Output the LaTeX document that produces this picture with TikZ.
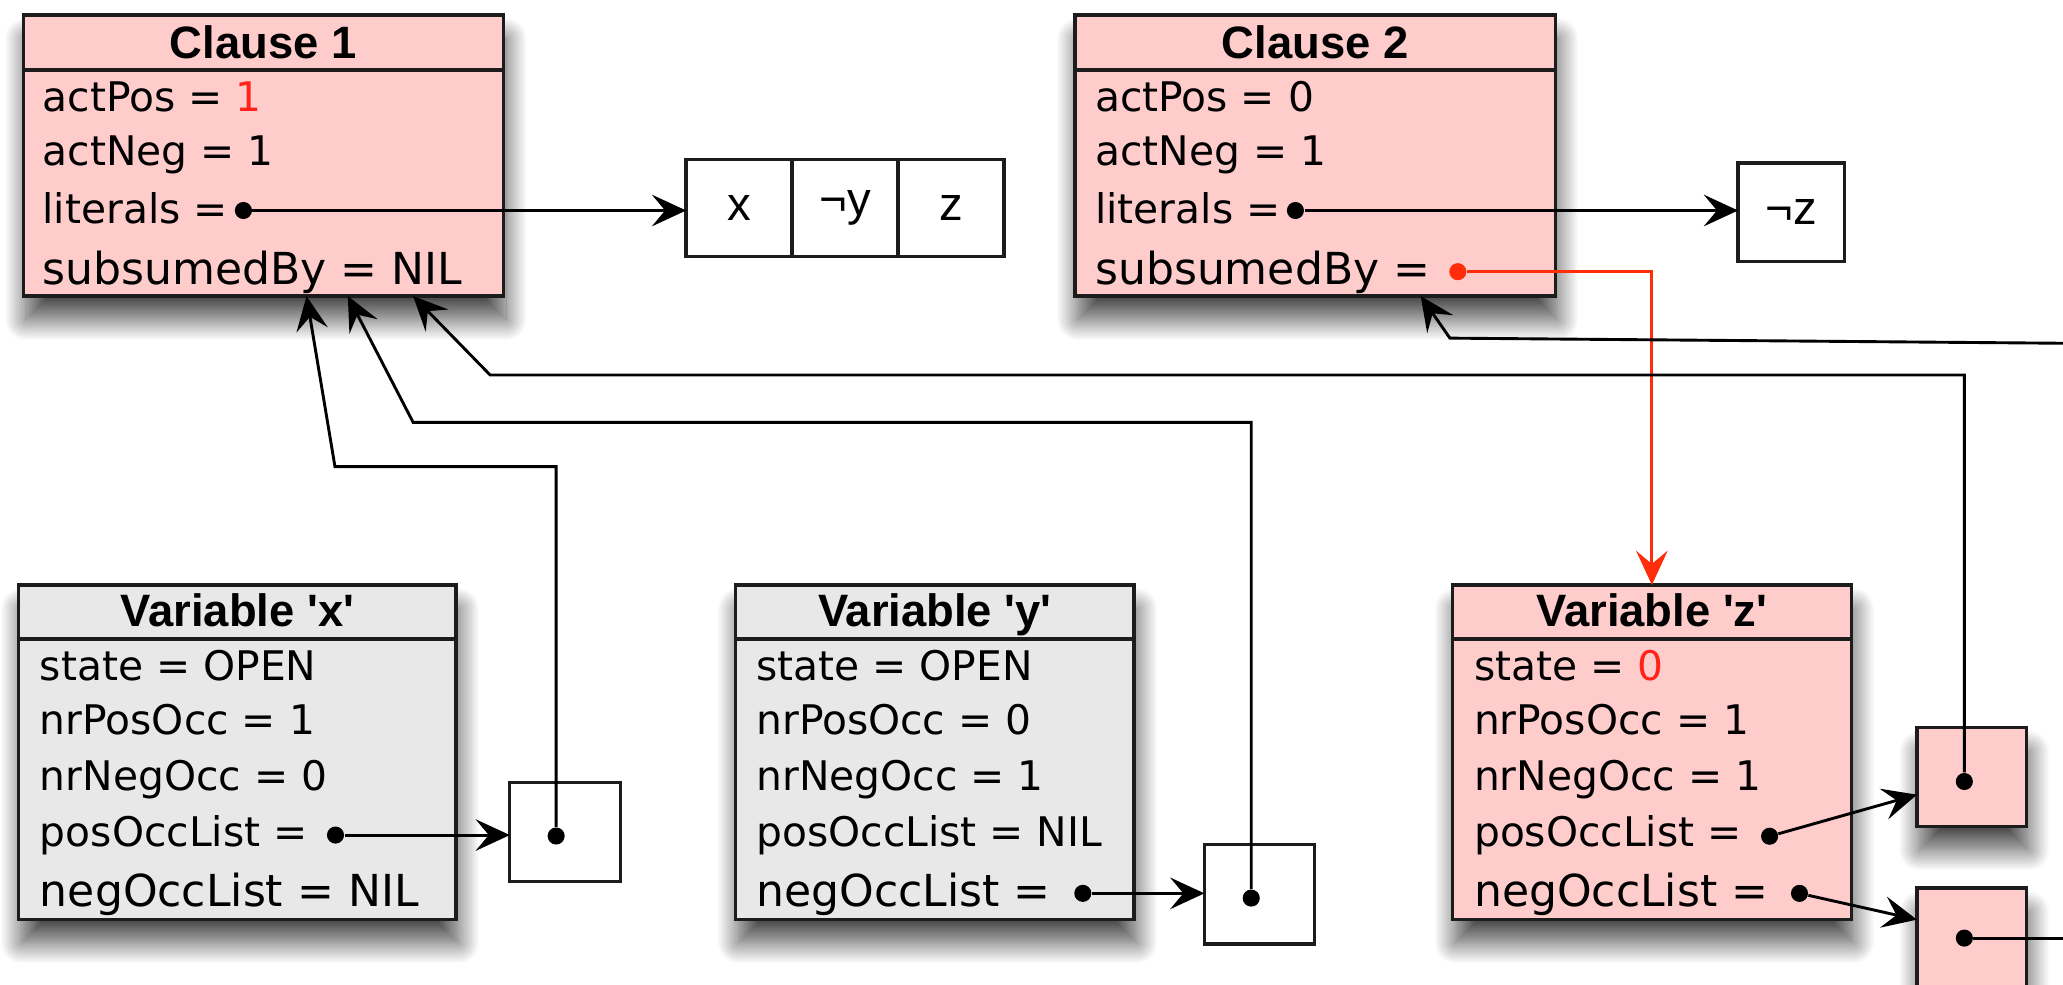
\documentclass[tikz,border=0pt]{standalone}
\usepackage{fontspec}
\setmainfont{DejaVu Sans}
\newfontfamily\headfont{Liberation Sans}
\newfontfamily\cellfont{Liberation Sans}
\usetikzlibrary{arrows.meta,calc,shadows.blur}

\definecolor{clausefill}{RGB}{255,204,204}
\definecolor{varfill}{RGB}{232,232,232}
\definecolor{rim}{RGB}{28,28,28}
\definecolor{hotred}{RGB}{255,35,25}
\definecolor{hotline}{RGB}{255,45,10}

\begin{document}
\begin{tikzpicture}[x=0.5pt, y=-0.5pt,
  recframe/.style={draw=rim, line width=1.25pt, inner sep=0pt, outer sep=0pt, anchor=north west},
  softshadow/.style={blur shadow={shadow xshift=1pt, shadow yshift=-9pt,
      shadow blur radius=8pt, shadow blur steps=30, shadow opacity=70}},
  clauserec/.style={recframe, fill=clausefill, softshadow, minimum width=182.5pt, minimum height=106.8pt},
  varrec/.style={recframe, fill=varfill, softshadow, minimum height=127pt},
  cellbox/.style={recframe, fill=white},
  celltext/.style={inner sep=0pt, font=\cellfont\fontsize{18}{20}\selectfont},
  zcell/.style={recframe, fill=clausefill, softshadow, minimum width=41.5pt, minimum height=37.5pt},
  headtext/.style={anchor=base, inner sep=0pt, font=\headfont\bfseries\fontsize{17.25}{20}\selectfont},
  attr/.style={anchor=base west, inner sep=0pt, font=\fontsize{15.5}{18}\selectfont},
  wideattr/.style={anchor=base west, inner sep=0pt, font=\fontsize{16.75}{19}\selectfont},
  ptrdot/.style={circle, fill=black, inner sep=0pt, minimum size=6.5pt},
  linkline/.style={draw=black, line width=1.1pt},
  headtip/.tip={Stealth[length=13pt, width=12pt, inset=5pt]},
  ptr/.style={linkline, -headtip},
  redptr/.style={draw=hotline, line width=1.1pt, -headtip},
  divider/.style={draw=rim, line width=1.25pt}
]
\clip (0,0) rectangle (1568,748);

% ---- clause records ----
\node[clauserec] (c1) at (17.6,11.4) {};
\draw[divider] (17.6,53.2) -- (382.7,53.2);
\node[headtext] (c1h) at (200,44.3) {Clause 1};
\node[attr] (c1a) at (32,85) {actPos = \textcolor{hotred}{1}};
\node[attr] (c1b) at (32,126) {actNeg = 1};
\node[attr] (c1c) at (32,170) {literals =};
\node[wideattr] (c1d) at (32,216.6) {subsumedBy = NIL};

\node[clauserec] (c2) at (817,11.4) {};
\draw[divider] (817,53.2) -- (1182,53.2);
\node[headtext] (c2h) at (999.5,44.3) {Clause 2};
\node[attr] (c2a) at (832,85) {actPos = 0};
\node[attr] (c2b) at (832,126) {actNeg = 1};
\node[attr] (c2c) at (832,170) {literals =};
\node[wideattr] (c2d) at (832,216.6) {subsumedBy =};

% ---- literal arrays ----
\node[cellbox, minimum width=40.25pt, minimum height=37pt] (l1) at (521.5,121) {};
\node[cellbox, minimum width=40.25pt, minimum height=37pt] (l2) at (602,121) {};
\node[cellbox, minimum width=40.25pt, minimum height=37pt] (l3) at (682.5,121) {};
\node[celltext] (l1t) at (l1.center) {x};
\node[celltext] (l2t) at (l2.center) {¬y};
\node[celltext] (l3t) at (l3.center) {z};

\node[cellbox, minimum width=40.5pt, minimum height=37.5pt] (nz) at (1321,124) {};
\node[celltext] (nzt) at (nz.center) {¬z};

% ---- variable records ----
\node[varrec, minimum width=166.2pt] (vx) at (14.2,444.6) {};
\draw[divider] (14.2,485.7) -- (346.6,485.7);
\node[headtext] (vxh) at (180.4,476) {Variable \textquotesingle x\textquotesingle};
\node[attr] (vx1) at (30,517) {state = OPEN};
\node[attr] (vx2) at (30,558.6) {nrPosOcc = 1};
\node[attr] (vx3) at (30,600.5) {nrNegOcc = 0};
\node[attr] (vx4) at (30,643.5) {posOccList =};
\node[wideattr] (vx5) at (30,689) {negOccList = NIL};

\node[varrec, minimum width=151.5pt] (vy) at (559,444.6) {};
\draw[divider] (559,485.7) -- (862,485.7);
\node[headtext] (vyh) at (710.5,476) {Variable \textquotesingle y\textquotesingle};
\node[attr] (vy1) at (574.5,517) {state = OPEN};
\node[attr] (vy2) at (574.5,558.6) {nrPosOcc = 0};
\node[attr] (vy3) at (574.5,600.5) {nrNegOcc = 1};
\node[attr] (vy4) at (574.5,643.5) {posOccList = NIL};
\node[wideattr] (vy5) at (574.5,689) {negOccList =};

\node[varrec, fill=clausefill, minimum width=151.5pt] (vz) at (1104,444.6) {};
\draw[divider] (1104,485.7) -- (1407,485.7);
\node[headtext] (vzh) at (1255.5,476) {Variable \textquotesingle z\textquotesingle};
\node[attr] (vz1) at (1120,517) {state = \textcolor{hotred}{0}};
\node[attr] (vz2) at (1120,558.6) {nrPosOcc = 1};
\node[attr] (vz3) at (1120,600.5) {nrNegOcc = 1};
\node[attr] (vz4) at (1120,643.5) {posOccList =};
\node[wideattr] (vz5) at (1120,689) {negOccList =};

% ---- occurrence list cells ----
\node[cellbox, minimum width=42pt, minimum height=37.5pt] (bx) at (387.5,595) {};
\node[cellbox, minimum width=41.8pt, minimum height=37.75pt] (by) at (915.4,642) {};
\node[zcell] (z1) at (1457,553) {};
\node[zcell] (z2) at (1457,675) {};

% ---- pointer dots ----
\node[ptrdot] (c1p) at (185,160) {};
\node[ptrdot] (c2p) at (984.6,160) {};
\node[ptrdot, fill=hotline] (c2s) at (1108,206.5) {};
\node[ptrdot] (vxp) at (255,634.7) {};
\node[ptrdot] (vyn) at (823,679) {};
\node[ptrdot] (vzp) at (1345,635.6) {};
\node[ptrdot] (vzn) at (1367.7,679) {};
\node[ptrdot] (bxd) at (422.7,635.4) {};
\node[ptrdot] (byd) at (951,682.6) {};
\node[ptrdot] (z1d) at (1493,594) {};
\node[ptrdot] (z2d) at (1493,713) {};

% ---- bends and entry points ----
\coordinate (c1in1) at ($(c1.south west)!0.59!(c1.south east)$);
\coordinate (c1in2) at ($(c1.south west)!0.676!(c1.south east)$);
\coordinate (c1in3) at ($(c1.south west)!0.812!(c1.south east)$);
\coordinate (c2in) at ($(c2.south west)!0.72!(c2.south east)$);
\coordinate (k1) at (254.6,354.7);
\coordinate (k2) at (314,321);
\coordinate (k3) at (372.5,285);
\coordinate (k4) at (1102,257);
\coordinate (c2src) at (1580,261);
\coordinate (z2out) at (1580,713);
\coordinate (z1in) at ($(z1.north west)!0.68!(z1.south west)$);
\coordinate (z2in) at ($(z2.north west)!0.32!(z2.south west)$);

% ---- pointers ----
\draw[ptr] (c1p) -- (c1p -| l1.west);
\draw[ptr] (c2p) -- (c2p -| nz.west);
\draw[redptr] (c2s) -| (vz.north);
\draw[ptr] (vxp) -- (vxp -| bx.west);
\draw[ptr] (vyn) -- (vyn -| by.west);
\draw[ptr] (vzp) -- (z1in);
\draw[ptr] (vzn) -- (z2in);
\draw[ptr] (bxd) -- (bxd |- k1) -- (k1) -- (c1in1);
\draw[ptr] (byd) -- (byd |- k2) -- (k2) -- (c1in2);
\draw[ptr] (z1d) -- (z1d |- k3) -- (k3) -- (c1in3);
\draw[ptr] (c2src) -- (k4) -- (c2in);
\draw[linkline] (z2d) -- (z2out);
\end{tikzpicture}
\end{document}
